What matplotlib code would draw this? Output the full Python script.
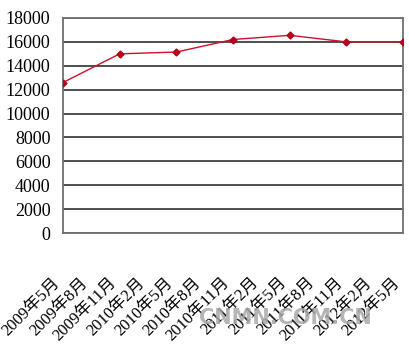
import matplotlib
matplotlib.use("Agg")
import matplotlib.pyplot as plt

plt.rcParams['font.family'] = ['Liberation Serif', 'Noto Sans CJK SC', 'DejaVu Sans']

# category labels on the x axis
months = ['2009年5月', '2009年8月', '2009年11月', '2010年2月', '2010年5月',
          '2010年8月', '2010年11月', '2011年2月', '2011年5月', '2011年8月',
          '2011年11月', '2012年2月', '2012年5月']
# months that have a value, and the values
data_months = ['2009年5月', '2009年11月', '2010年5月', '2010年11月',
               '2011年5月', '2011年11月', '2012年5月']
values = [12600, 15000, 15150, 16200, 16550, 16000, 16000]
yticks = list(range(0, 18001, 2000))

fig = plt.figure(figsize=(4.1, 3.55), dpi=100)
ax = fig.add_axes([63/410, 1 - 233/355, 340/410, 215/355])

xpos = [months.index(m) for m in data_months]
ax.plot(xpos, values, color='#d0102a', lw=1.0, marker='D', ms=3.5,
        mec='#b00018', mfc='#c00020', zorder=3)

ax.set_xlim(0, len(months) - 1)
ax.set_ylim(0, 18000)
ax.set_yticks(yticks)
ax.set_yticklabels([str(v) for v in yticks], fontsize=13)
ax.set_xticks(range(len(months)))
ax.set_xticklabels(months, rotation=45, ha='right', va='top', fontsize=12)
ax.tick_params(axis='x', length=0, pad=30)
ax.tick_params(axis='y', length=0, pad=9)
ax.grid(axis='y', color='#404040', lw=1.3, zorder=1)
for s in ax.spines.values():
    s.set_color('#707070')
    s.set_linewidth(1.3)

fig.text(285/410, 1 - 318/355, 'CNMN.COM.CN', ha='center', va='center',
         fontsize=15, color='#a8a8a8', family='DejaVu Sans', fontweight='bold',
         alpha=0.85)

fig.savefig('out.png', dpi=100)
